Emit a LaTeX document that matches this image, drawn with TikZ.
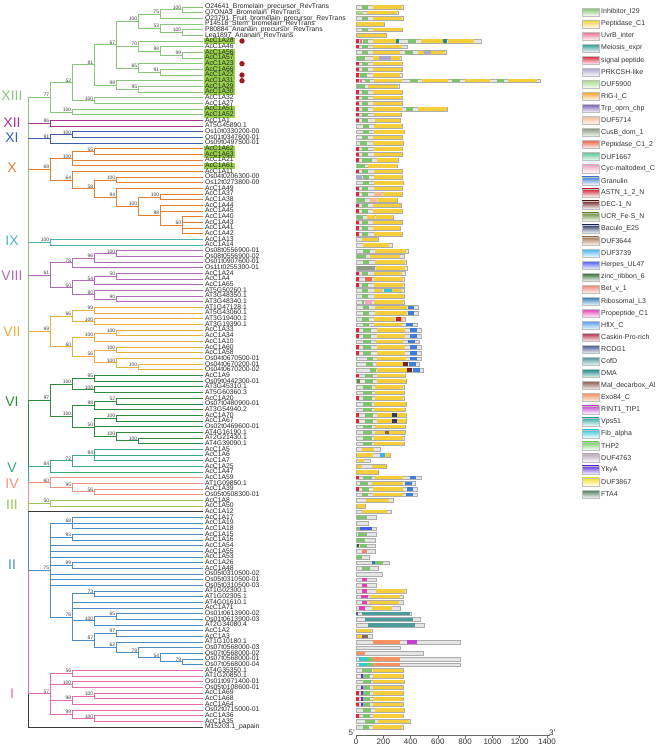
\documentclass[tikz,border=0pt]{standalone}
\usepackage{fontspec}
\setmainfont{Liberation Sans}
\usetikzlibrary{backgrounds}

% clade colours
\definecolor{cXIII}{HTML}{86C77A}
\definecolor{cXII}{HTML}{A1358F}
\definecolor{cXI}{HTML}{3D5EA8}
\definecolor{cX}{HTML}{E67E30}
\definecolor{cIX}{HTML}{49B6B2}
\definecolor{cVIII}{HTML}{B06CB8}
\definecolor{cVII}{HTML}{E6B13A}
\definecolor{cVI}{HTML}{2F8A3D}
\definecolor{cV}{HTML}{3AA889}
\definecolor{cIV}{HTML}{F2907F}
\definecolor{cIII}{HTML}{9CC452}
\definecolor{cII}{HTML}{4B8EC6}
\definecolor{cI}{HTML}{E46BB0}
\definecolor{cBlk}{HTML}{3A3A3A}
\definecolor{hlgreen}{HTML}{97CF4A}
\definecolor{dotred}{HTML}{9E1B22}
% domain colours
\definecolor{dinh}{HTML}{7DC46A}
\definecolor{dpep}{HTML}{F6CD3A}
\definecolor{duvr}{HTML}{EC6F8A}
\definecolor{dmei}{HTML}{2A9A8C}
\definecolor{dsig}{HTML}{E2263A}
\definecolor{dprk}{HTML}{A9A9CF}
\definecolor{d5900}{HTML}{A9D98C}
\definecolor{drig}{HTML}{F7A233}
\definecolor{dtrp}{HTML}{7B62B3}
\definecolor{d5714}{HTML}{F9BA92}
\definecolor{dcus}{HTML}{8E9B84}
\definecolor{dpep2}{HTML}{E8674B}
\definecolor{d1667}{HTML}{5DC59B}
\definecolor{dcyc}{HTML}{F4A3BC}
\definecolor{dgra}{HTML}{3B7FD6}
\definecolor{dastn}{HTML}{C8202F}
\definecolor{ddec}{HTML}{6F2525}
\definecolor{ducr}{HTML}{6B8B31}
\definecolor{dbac}{HTML}{2B3B6B}
\definecolor{d3644}{HTML}{A9794B}
\definecolor{d3739}{HTML}{3CB1F1}
\definecolor{dher}{HTML}{4B5BF1}
\definecolor{dzr}{HTML}{2F6B2F}
\definecolor{dbet}{HTML}{F18171}
\definecolor{drib}{HTML}{2F7BB9}
\definecolor{dpro}{HTML}{E141B1}
\definecolor{dhfl}{HTML}{5B9BF6}
\definecolor{dcas}{HTML}{B1314B}
\definecolor{drcd}{HTML}{4B5B91}
\definecolor{dcof}{HTML}{4B9B9B}
\definecolor{ddma}{HTML}{1B8B8B}
\definecolor{dmal}{HTML}{8B6151}
\definecolor{dexo}{HTML}{F99161}
\definecolor{drint}{HTML}{C141D1}
\definecolor{dvps}{HTML}{31A9A1}
\definecolor{dfib}{HTML}{31C9D9}
\definecolor{dthp}{HTML}{71D161}
\definecolor{d4763}{HTML}{B9A9B9}
\definecolor{dyky}{HTML}{6131E1}
\definecolor{d3867}{HTML}{F1E131}
\definecolor{dfta}{HTML}{4B7B5B}

\begin{document}
\begin{tikzpicture}[x=1pt, y=-1pt,
    edge/.style={line width=0.8pt},
    leaf/.style={anchor=west, xshift=1pt, inner xsep=0.8pt, inner ysep=0pt, text height=4.6pt, text depth=1.0pt, font=\fontsize{6.8}{6.8}\selectfont, text=black!85},
    bs/.style={anchor=south east, inner xsep=0.6pt, inner ysep=0.3pt, font=\fontsize{5}{5}\selectfont, text=black!75},
    clade/.style={inner sep=0pt, font=\fontsize{14}{14}\selectfont},
    dot/.style={circle, fill=dotred, inner sep=0pt, minimum size=5.4pt},
    bar/.style={fill=black!10, draw=black!32, line width=0.3pt},
    lgd/.style={anchor=west, inner sep=0pt, font=\fontsize{7}{7}\selectfont, text=black!80},
    tick/.style={inner sep=0pt, font=\fontsize{8}{8}\selectfont, text=black!80}
]
\useasboundingbox (0,0) rectangle (669,748);

% tree, one unit of y per leaf
\begin{scope}[y=-5.67pt, yshift=-1.33pt]
    \coordinate (root) at (28,16.92);

    % leaves
    \foreach \n [count=\i] in {O24641\_Bromelain\_precursor\_RevTrans, Q7ONA3\_Bromelain\_RevTrans, O23791\_Fruit\_bromelain\_precursor\_RevTrans, P14518\_Stem\_bromelain\_RevTrans, P80884\_Ananain\_precursor\_RevTrans, Lea1897\_Ananain\_RevTrans,
        AcC1A28, AcC1A46, AcC1A56, AcC1A57, AcC1A23, AcC1A66, AcC1A22, AcC1A31, AcC1A29, AcC1A30, AcC1A32, AcC1A27, AcC1A51, AcC1A52,
        AcC1A1, AT5G45890.1, Os10t0330200-00, Os01t0347600-01, Os09t0497500-01,
        AcC1A62, AcC1A63, AcC1A21, AcC1A61, AcC1A11, Os04t0206300-00, Os12t0273800-00, AcC1A49, AcC1A37, AcC1A38, AcC1A44, AcC1A45, AcC1A40, AcC1A43, AcC1A41, AcC1A42,
        AcC1A13, AcC1A14,
        Os08t0556900-01, Os08t0556900-02, Os01t0907600-01, Os11t0255300-01, AcC1A24, AcC1A4, AcC1A65, AT5G50260.1, AT3G48350.1, AT3G48340.1,
        AT1G47128.1, AT5G43060.1, AT3G19400.1, AT3G19390.1, AcC1A33, AcC1A34, AcC1A10, AcC1A60, AcC1A58, Os04t0670500-01, Os04t0670200-01, Os04t0670200-02,
        AcC1A9, Os09t0442300-01, AT3G45310.1, AT5G60360.3, AcC1A20, Os07t0480900-01, AT3G54940.2, AcC1A70, AcC1A67, Os02t0469600-01, AT4G16190.1, AT2G21430.1, AT4G39090.1,
        AcC1A5, AcC1A6, AcC1A7, AcC1A25, AcC1A47,
        AcC1A59, AT1G09850.1, AcC1A39, Os05t0508300-01,
        AcC1A8, AcC1A50, AcC1A12,
        AcC1A17, AcC1A19, AcC1A18, AcC1A15, AcC1A16, AcC1A54, AcC1A55, AcC1A53, AcC1A26, AcC1A48, Os05t0310500-02, Os05t0310500-01, Os05t0310500-03,
        AT1G02300.1, AT1G02305.1, AT4G01610.1, AcC1A71, Os01t0613900-02, Os01t0613900-03, AT2G34080.4, AcC1A2, AcC1A3, AT1G10180.1,
        Os07t0568000-03, Os07t0568000-02, Os07t0568000-01, Os07t0568000-04,
        AT4G35350.1, AT1G20850.1, Os01t0971400-01, Os05t0108600-01, AcC1A69, AcC1A68, AcC1A64, Os02t0715000-01, AcC1A36, AcC1A35,
        M15203.1\_papain}
    {
        \coordinate (l\i) at (203,\i);
        \node[leaf] (t\i) at (l\i) {\n};
    }
    \begin{pgfonlayer}{background}
        \foreach \i in {7,9,10,11,12,13,14,15,16,19,20,26,27,29}
            \fill[hlgreen] ([yshift=0.2pt]t\i.north west) rectangle ([yshift=-0.2pt]t\i.south east);
    \end{pgfonlayer}
    \foreach \i in {7,11,13,14}
        \node[dot] (dt\i) at (242,\i) {};

    % inner nodes with bootstrap values
    \foreach \n/\x/\y/\v in {b1/182/1.5/100, b2/160/2.25/75, b3/182/5.5/100, b4/160/4.75/53, b5/138/3.5/100, b6/182/9.5/99, b7/160/8.75/98, b8/138/7.875/70, b9/160/12.5/91, b10/138/11.75/65, b11/116/7.625/67, b12/138/15.5/95, b13/116/14.75/98, b14/94/11.19/81, b15/94/17.5/100, b16/72/14.34/52, b17/72/19.5/100, b18/50/16.92/77,
        c1/50/21.5/86, d1/72/23.5/100, d2/50/24.25/91,
        e1/94/26.5/55, e2/72/27.75/100, e3/116/31.5/100, e4/160/34.5/100, e5/182/39.5/60, e6/160/37.75/98, e7/138/36.13/100, e8/116/34.56/94, e9/94/33.03/58, e10/72/31.52/64, e11/50/29.63/69,
        f1/50/42.5/100,
        g1/116/44.5/100, g2/94/45.25/96, g3/72/46.13/78, g4/116/48.5/50, g5/94/49.25/54, g6/116/52.5/90, g7/94/51.75/80, g8/72/50.5/50, g9/50/48.31/61,
        h1/94/54.5/99, h2/94/56.5/100, h3/72/55.5/66, h4/116/58.5/100, h5/94/59.25/100, h6/116/61.5/100, h7/138/64.5/100, h8/116/63.75/100, h9/94/62.63/56, h10/72/60.94/60, h11/50/58.22/69,
        i1/94/66.5/95, i2/94/68.5/100, i3/72/67.5/100, i4/116/70.5/52, i5/94/71.25/98, i6/116/73.5/100, i7/138/77.5/100, i8/116/76.75/100, i9/94/75.13/50, i10/72/73.19/100, i11/50/70.34/97,
        j1/94/80/84, j2/72/81/72, j3/50/82/84,
        k1/94/86.5/56, k2/72/85.75/95, k3/50/84.88/60,
        m1/50/88.5/50,
        p1/72/92/68, p2/72/94.5/93, p3/72/99.5/99, p4/94/104.5/73, p5/116/108.5/65, p6/94/109.25/100, p7/116/111.5/97, p8/182/116.5/79, p9/160/115.75/54, p10/138/114.88/79, p11/116/113.94/62, p12/94/112.72/87, p13/72/108.61/78, p14/50/100.3/75,
        q1/72/118.5/56, q2/72/120.5/100, q3/94/122.5/100, q4/72/123.25/98, q5/94/126.5/100, q6/72/125.75/99, q7/50/122.13/57}
    {
        \coordinate (\n) at (\x,\y);
        \node[bs] (bs\n) at (\n) {\v};
    }

    % XIII
    \foreach \a/\b in {b1/l1, b1/l2, b2/b1, b2/l3, b3/l5, b3/l6, b4/l4, b4/b3, b5/b2, b5/b4, b6/l9, b6/l10, b7/l8, b7/b6, b8/l7, b8/b7, b9/l12, b9/l13, b10/l11, b10/b9, b11/b5, b11/b8, b11/b10, b12/l15, b12/l16, b13/l14, b13/b12, b14/b11, b14/b13, b15/l17, b15/l18, b16/b14, b16/b15, b17/l19, b17/l20, b18/b16, b18/b17}
        \draw[edge, cXIII] (\a) |- (\b);
    % XII, XI
    \foreach \a/\b in {c1/l21, c1/l22}
        \draw[edge, cXII] (\a) |- (\b);
    \foreach \a/\b in {d1/l23, d1/l24, d2/d1, d2/l25}
        \draw[edge, cXI] (\a) |- (\b);
    % X
    \foreach \a/\b in {e1/l26, e1/l27, e2/e1, e2/l28, e2/l29, e3/l31, e3/l32, e4/l34, e4/l35, e5/l38, e5/l39, e5/l40, e5/l41, e6/l36, e6/l37, e6/e5, e7/e4, e7/e6, e8/l33, e8/e7, e9/e3, e9/e8, e10/l30, e10/e9, e11/e2, e11/e10}
        \draw[edge, cX] (\a) |- (\b);
    % IX
    \foreach \a/\b in {f1/l42, f1/l43}
        \draw[edge, cIX] (\a) |- (\b);
    % VIII
    \foreach \a/\b in {g1/l44, g1/l45, g2/g1, g2/l46, g3/g2, g3/l47, g4/l48, g4/l49, g5/g4, g5/l50, g6/l52, g6/l53, g7/l51, g7/g6, g8/g5, g8/g7, g9/g3, g9/g8}
        \draw[edge, cVIII] (\a) |- (\b);
    % VII
    \foreach \a/\b in {h1/l54, h1/l55, h2/l56, h2/l57, h3/h1, h3/h2, h4/l58, h4/l59, h5/h4, h5/l60, h6/l61, h6/l62, h7/l64, h7/l65, h8/l63, h8/h7, h9/h6, h9/h8, h10/h5, h10/h9, h11/h3, h11/h10}
        \draw[edge, cVII] (\a) |- (\b);
    % VI
    \foreach \a/\b in {i1/l66, i1/l67, i2/l68, i2/l69, i3/i1, i3/i2, i4/l70, i4/l71, i5/i4, i5/l72, i6/l73, i6/l74, i7/l77, i7/l78, i8/l76, i8/i7, i9/i6, i9/l75, i9/i8, i10/i5, i10/i9, i11/i3, i11/i10}
        \draw[edge, cVI] (\a) |- (\b);
    % V, IV, III
    \foreach \a/\b in {j1/l79, j1/l80, j1/l81, j2/j1, j2/l82, j3/j2, j3/l83}
        \draw[edge, cV] (\a) |- (\b);
    \foreach \a/\b in {k1/l86, k1/l87, k2/l85, k2/k1, k3/l84, k3/k2}
        \draw[edge, cIV] (\a) |- (\b);
    \foreach \a/\b in {m1/l88, m1/l89}
        \draw[edge, cIII] (\a) |- (\b);
    % II
    \foreach \a/\b in {p1/l91, p1/l92, p1/l93, p2/l94, p2/l95, p3/l99, p3/l100, p4/l104, p4/l105, p5/l108, p5/l109, p6/p5, p6/l110, p7/l111, p7/l112, p8/l116, p8/l117, p9/l115, p9/p8, p10/l114, p10/p9, p11/l113, p11/p10, p12/p7, p12/p11, p13/p4, p13/l106, p13/l107, p13/p6, p13/p12, p14/p1, p14/p2, p14/l96, p14/l97, p14/l98, p14/p3, p14/l101, p14/l102, p14/l103, p14/p13}
        \draw[edge, cII] (\a) |- (\b);
    % I
    \foreach \a/\b in {q1/l118, q1/l119, q2/l120, q2/l121, q3/l122, q3/l123, q4/q3, q4/l124, q5/l126, q5/l127, q6/l125, q6/q5, q7/q1, q7/q2, q7/q4, q7/q6}
        \draw[edge, cI] (\a) |- (\b);

    % backbone
    \foreach \a/\b/\c in {b18/i11/cXIII, i11/j3/cVI, j3/k3/cV, k3/m1/cIV, m1/l90/cIII, l90/p14/cII, p14/q7/cI, q7/l128/cBlk}
        \draw[edge, \c] (\a -| root) -- (\b -| root);
    \foreach \n/\c in {b18/cXIII, c1/cXII, d2/cXI, e11/cX, f1/cIX, g9/cVIII, h11/cVII, i11/cVI, j3/cV, k3/cIV, m1/cIII, l90/cBlk, p14/cII, q7/cI, l128/cBlk}
        \draw[edge, \c] (\n -| root) -- (\n);

    % clade names
    \foreach \t/\y/\c [count=\k] in {XIII/16.6/cXIII, XII/21.4/cXII, XI/24.1/cXI, X/29.4/cX, IX/42.2/cIX, VIII/48.4/cVIII, VII/58.2/cVII, VI/70.6/cVI, V/82.2/cV, IV/85.1/cIV, III/88.7/cIII, II/99.4/cII, I/122.1/cI}
        \node[clade, text=\c] (cl\k) at (12,\y) {\t};
\end{scope}

% domain bars, x in amino acids
\begin{scope}[x=0.1364pt, y=-5.67pt, shift={(356pt,-1.33pt)}]
    \foreach \r/\len/\doms in {
        1/347/{dinh/42/90,dpep/127/335}, 2/310/{d5900/5/54,dpep/78/298}, 3/347/{dinh/42/90,dpep/122/335}, 4/208/{dpep/5/208}, 5/340/{dinh/42/90,dpep/122/335}, 6/218/{dpep/5/218},
        7/914/{dsig/3/22,duvr/30/45,dinh/50/90,dpep/122/293,ddma/293/318,dinh/384/440,dpep/474/640,ddma/640/665,dpep/677/866},
        8/377/{dsig/3/22,dinh/42/90,dpep/127/335},
        9/658/{dinh/42/90,dpep/127/323,dinh/359/420,dpep/457/499,dprk/499/548,dpep/548/653},
        10/328/{dinh/5/66,dpep/127/171,dprk/171/254,dpep/254/323},
        11/340/{dsig/3/22,dinh/42/90,dpep/127/340}, 12/340/{dsig/3/22,dinh/42/90,dpep/127/340}, 13/335/{dsig/3/22,dinh/30/78,dpep/127/323},
        14/1350/{dsig/3/22,duvr/30/45,dinh/66/103,dpep/132/335,dinh/396/457,dpep/482/677,dinh/702/763,dpep/800/983,dinh/1032/1086,dpep/1117/1330},
        15/318/{dinh/5/66,dpep/90/306}, 16/340/{dsig/3/22,dinh/42/90,dpep/127/340}, 17/340/{dsig/3/22,dinh/42/90,dpep/127/340}, 18/340/{dsig/3/22,dinh/42/90,dpep/127/335},
        19/665/{dsig/3/22,dinh/42/90,dpep/122/335,dinh/367/420,dpep/457/665},
        20/330/{dsig/3/22,dinh/42/90,dpep/132/330}, 21/325/{dsig/3/22,dinh/42/90,dpep/139/323}, 22/340/{dinh/49/98,dpep/132/340}, 23/352/{dinh/49/98,dpep/132/352},
        24/340/{dinh/42/90,dpep/127/335}, 25/342/{dinh/30/83,dpep/127/342}, 26/340/{dsig/3/22,dinh/42/90,dpep/132/340}, 27/340/{dsig/3/22,dinh/42/90,dpep/132/340},
        28/310/{dsig/3/22,dinh/42/115,dpep/152/310}, 29/300/{dinh/5/66,dpep/86/298}, 30/340/{dsig/3/22,dinh/42/90,dpep/132/340}, 31/335/{dprk/10/42,dinh/49/98,dpep/132/335},
        32/345/{dinh/49/98,dpep/132/345}, 33/335/{dsig/3/22,dinh/42/90,dpep/132/335}, 34/335/{dsig/3/22,dinh/42/90,d5714/132/188,dpep/196/335},
        35/305/{dinh/5/66,d5714/103/156,dpep/164/303}, 36/330/{dsig/3/22,dinh/42/90,dpep/122/328}, 37/335/{dsig/3/22,dinh/42/90,dpep/122/335},
        38/270/{dinh/10/54,dpep/78/142,dpep/147/269}, 39/340/{dsig/3/22,dinh/42/90,dpep/127/340}, 40/325/{dsig/3/22,dinh/42/90,dpep/127/323}, 41/340/{dsig/3/22,dinh/42/90,dpep/132/340},
        42/165/{dpep/42/164}, 43/265/{dpep/49/245}, 44/380/{dinh/54/103,dpep/139/367}, 45/352/{dinh/10/73,dpep/103/323}, 46/366/{dinh/49/98,dpep/139/359},
        47/376/{dcus/10/139,dpep/147/359}, 48/360/{dsig/3/22,dinh/42/90,dpep/132/335}, 49/350/{dsig/3/22,dpep2/66/115,dpep/132/347}, 50/350/{dsig/3/22,dinh/42/90,dpep/132/347},
        51/355/{dinh/42/90,dpep/132/200,dfib/205/262,dpep/262/335}, 52/355/{dinh/42/90,dpep/132/352}, 53/350/{dinh/42/60,dcyc/66/115,dpep/132/342},
        54/456/{dinh/49/98,dpep/139/372,dgra/379/428}, 55/456/{dinh/49/98,dpep/139/372,dgra/379/428}, 56/360/{dinh/42/98,dpep/132/286,dastn/291/328,dpep/328/347},
        57/445/{dinh/49/98,dpep/132/335,dgra/367/416}, 58/475/{dsig/3/22,dinh/54/108,dpep/156/359,dgra/396/445}, 59/475/{dsig/3/22,dinh/54/108,dpep/156/359,dgra/396/445},
        60/465/{dinh/54/108,dpep/147/347,dgra/384/433}, 61/475/{dsig/3/22,dinh/54/108,dpep/156/359,dgra/396/445}, 62/475/{dsig/3/22,dinh/54/108,dpep/156/359,dgra/396/445},
        63/480/{dinh/78/127,dpep/156/367,dgra/396/445}, 64/460/{dinh/73/122,dpep/147/347,ddec/347/384,dgra/391/440}, 65/490/{dinh/103/147,dpep/152/372,ddec/372/408,dgra/416/469},
        66/360/{dsig/3/22,dinh/66/127,dpep/152/359}, 67/365/{ducr/10/30,dinh/66/127,dpep/152/367}, 68/350/{dinh/54/115,dpep/139/347}, 69/355/{dinh/54/115,dpep/139/352},
        70/350/{dsig/3/22,dinh/54/115,dpep/139/347}, 71/365/{dinh/54/115,dpep/132/367}, 72/360/{dinh/54/115,dpep/132/359},
        73/370/{dsig/3/22,dinh/66/127,dpep/152/262,dbac/262/303,dpep/303/367}, 74/370/{dsig/3/22,dinh/66/127,dpep/152/262,dbac/262/303,dpep/303/367},
        75/360/{dinh/54/115,dpep/139/359}, 76/360/{dinh/54/115,dpep/139/213,dmal/213/245,dpep/245/359}, 77/350/{dinh/54/115,dpep/132/347}, 78/355/{dinh/54/115,dpep/132/352},
        79/175/{dpep/42/132}, 80/250/{dpep/5/127,d3739/176/213,dpep/213/249}, 81/107/{dpep/17/59}, 82/220/{dpep/5/42,dpep/115/220}, 83/165/{dpep/5/164},
        84/480/{dsig/3/22,dinh/54/115,dpep/139/347,dgra/396/438}, 85/430/{dinh/30/90,dpep/115/347,dgra/359/408}, 86/445/{dsig/3/22,dinh/42/98,dpep/127/347,dgra/372/420},
        87/445/{dinh/42/90,dpep/127/347,dgra/367/416}, 88/270/{dpep/73/200,dpep/200/245}, 89/65/{dpep/5/64}, 90/255/{dpep/42/230},
        91/150/{dinh/5/78}, 92/90/{none/0/0}, 93/150/{dinh/10/30,dher/30/115}, 94/150/{dinh/17/78}, 95/140/{dinh/10/66}, 96/140/{dzr/5/22,dinh/30/78},
        97/140/{dbet/42/78}, 98/95/{dinh/5/42}, 99/240/{drib/115/139,dinh/139/200}, 100/165/{dinh/42/103}, 101/190/{none/0/0},
        102/150/{dpro/42/78}, 103/150/{dpro/42/78}, 104/370/{dpro/42/78,dpep/147/362}, 105/345/{dpro/37/90,dpep/103/323}, 106/345/{dpro/42/78,dpep/98/318},
        107/320/{dpro/25/66,dpep/115/262}, 108/403/{drcd/3/15,dcof/42/396}, 109/470/{dcof/66/420}, 110/499/{dcof/90/433},
        111/115/{dpep/5/110}, 112/115/{dpep/5/42,dmal/42/90}, 113/765/{dexo/127/323,drint/372/445}, 114/323/{none/0/0}, 115/490/{dexo/5/66},
        116/765/{dfib/22/78,dinh/78/127,dexo/127/323}, 117/765/{dfib/22/78,dinh/78/127,dexo/127/323},
        118/345/{dinh/42/115,dpep/127/342}, 119/345/{dyky/37/49,dinh/49/103,dpep/127/342}, 120/355/{dinh/49/108,dpep/127/352}, 121/345/{dyky/37/49,dinh/49/103,dpep/127/342},
        122/345/{dsig/3/22,dyky/37/49,dinh/49/103,dpep/127/342}, 123/345/{dsig/3/22,dyky/37/49,dinh/49/103,dpep/127/342}, 124/345/{dsig/3/22,dyky/37/49,dinh/49/103,dpep/127/342},
        125/355/{dinh/49/108,dpep/139/352}, 126/345/{dsig/3/22,dinh/49/103,dpep/127/342}, 127/395/{dinh/66/139,dpep/164/391}, 128/345/{dinh/49/98,dpep/127/335}}
    {
        \draw[bar] (0,\r-0.33) rectangle (\len,\r+0.33);
        \foreach \d/\a/\b in \doms
            \path[fill=\d] (\a,\r-0.31) rectangle (\b,\r+0.31);
    }
\end{scope}

% length axis
\coordinate (ax0) at (356,735);
\coordinate (ax1) at (550,735);
\draw[black!60, line width=0.6pt] (ax0) -- (ax1);
\foreach \v in {0,200,...,1400} {
    \draw[black!60, line width=0.5pt] (356+0.1364*\v,735) -- ++(0,2.5);
    \node[tick] (tk\v) at (356+0.1364*\v,742) {\v};
}
\node[tick, anchor=east] (five) at (355,733) {5'};
\node[tick, anchor=west] (three) at (549,733) {3'};

% legend
\foreach \c/\t [count=\k from 0] in {dinh/Inhibitor\_I29, dpep/Peptidase\_C1, duvr/UvrB\_inter, dmei/Meiosis\_expr, dsig/signal peptide, dprk/PRKCSH-like, d5900/DUF5900, drig/RIG-I\_C, dtrp/Trp\_oprn\_chp, d5714/DUF5714,
    dcus/CusB\_dom\_1, dpep2/Peptidase\_C1\_2, d1667/DUF1667, dcyc/Cyc-maltodext\_C, dgra/Granulin, dastn/ASTN\_1\_2\_N, ddec/DEC-1\_N, ducr/UCR\_Fe-S\_N, dbac/Baculo\_E25, d3644/DUF3644,
    d3739/DUF3739, dher/Herpes\_UL47, dzr/zinc\_ribbon\_6, dbet/Bet\_v\_1, drib/Ribosomal\_L3, dpro/Propeptide\_C1, dhfl/HflX\_C, dcas/Caskin-Pro-rich, drcd/RCDG1, dcof/CofD,
    ddma/DMA, dmal/Mal\_decarbox\_Al, dexo/Exo84\_C, drint/RINT1\_TIP1, dvps/Vps51, dfib/Fib\_alpha, dthp/THP2, d4763/DUF4763, dyky/YkyA, d3867/DUF3867, dfta/FTA4}
{
    \shadedraw[draw=black!25, line width=0.3pt, top color=\c, bottom color=\c!6] (582,8+12.05*\k) rectangle (599,16+12.05*\k);
    \node[lgd] (lg\k) at (601,12+12.05*\k) {\t};
}
\end{tikzpicture}
\end{document}
